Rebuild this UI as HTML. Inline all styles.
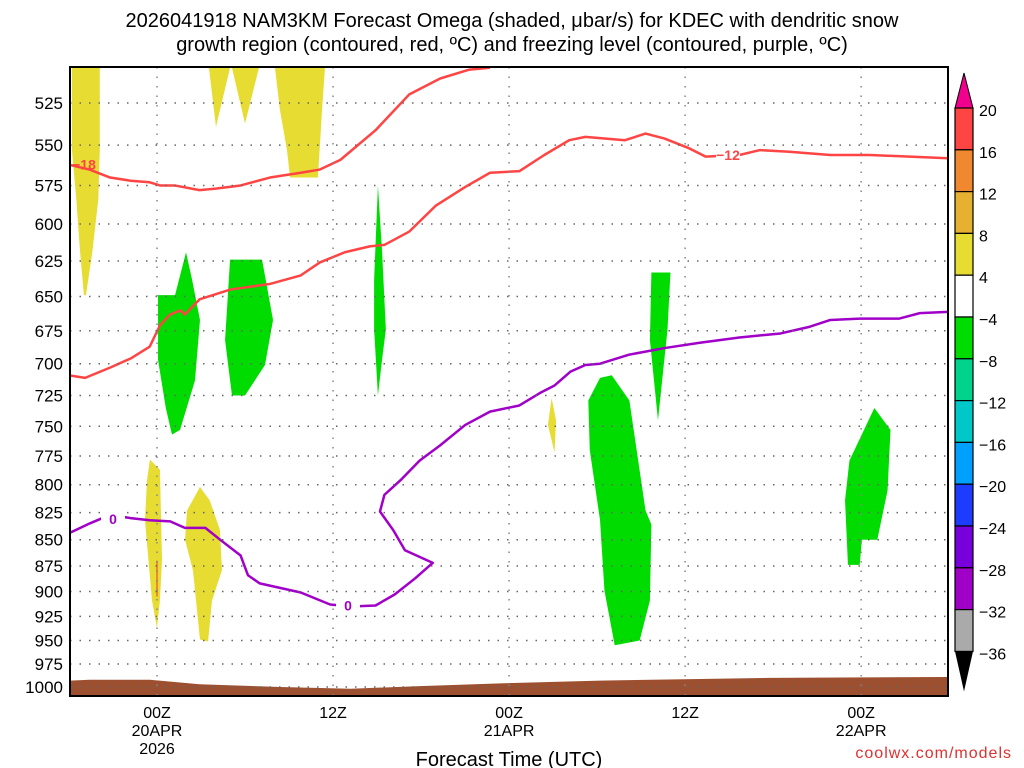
<!DOCTYPE html>
<html><head><meta charset="utf-8"><style>
body{margin:0;background:#fff;width:1024px;height:768px;overflow:hidden}
svg{display:block;font-family:"Liberation Sans",sans-serif}
</style></head><body>
<svg id="chart" width="1024" height="768" viewBox="0 0 1024 768">
<text x="512" y="27" font-size="20" text-anchor="middle">2026041918 NAM3KM Forecast Omega (shaded, μbar/s) for KDEC with dendritic snow</text>
<text x="512" y="51" font-size="20" text-anchor="middle">growth region (contoured, red, ºC) and freezing level (contoured, purple, ºC)</text>
<g id="plot"></g>
<text x="509" y="766" font-size="20" text-anchor="middle">Forecast Time (UTC)</text>
<text x="1012" y="758" font-size="16" fill="#e03030" text-anchor="end" letter-spacing="1">coolwx.com/models</text>
</svg>
<script>
const pressureTicks=[525,550,575,600,625,650,675,700,725,750,775,800,825,850,875,900,925,950,975,1000];
const timeTicks=[0,12,24,36,48];
const timeLabels=[["00Z","20APR","2026"],["12Z"],["00Z","21APR"],["12Z"],["00Z","22APR"]];
const cbLevels=["20","16","12","8","4","−4","−8","−12","−16","−20","−24","−28","−32","−36"];
const cbColors=["#ff4444","#f08830","#e6b030","#e6dc32","#ffffff","#00dc00","#00d48c","#00c8c8","#00a0ff","#1e3cff","#7800dc","#a000c8","#aaaaaa"];
// line contours: hours, pressure (mb)
const m18H=[-6,-4.6,-3.2,-1.8,-0.5,0.2,1.2,2.9,4,5.7,7.7,9.8,11.1,12.5,14.9,17.2,19.3,21.3,22.7];
const m18P=[562,565,570,572,573,575,575,578,577,575,570,567,565,559,541,520,511,506,505];
const m12H=[-6,-4.9,-3.2,-1.8,-0.5,0.2,0.9,1.6,1.9,2.9,5,7.7,9.8,11.1,12.8,14.5,15.5,17.2,19,21,22.7,24.7,26.4,28.1,29.2,31.9,33.3,34.6,36.3,37.4,39.7,41.1,43.1,45.9,48.6,51.3,54];
const m12P=[709,711,703,696,687,671,663,660,663,652,645,641,635,626,619,615,614,605,588,576,567,566,556,547,545,547,543,546,552,557,556,553,554,556,556,557,558];
const fzH=[-6,-4.6,-3.2,-1.8,-0.5,0.9,1.9,3.3,4.3,5.7,6.2,7,9.8,11.8,13.2,14.9,16.2,17.6,18.8,16.9,16.1,15.2,15.5,16.6,17.9,19.3,21,22.7,24.7,26.1,27.1,28.2,29.2,30.2,32.2,34.6,37,39.7,42.5,44.5,45.9,47.9,49.3,50.6,52,54];
const fzP=[844,835,827,830,832,833,839,839,850,865,884,892,901,913,915,914,903,887,872,860,841,824,809,796,779,766,749,738,733,723,717,706,701,700,693,688,684,680,677,672,667,666,666,666,662,661];
// shaded omega regions: [hour, pressure]
const yellowRegions=[
[[-5.8,505],[-3.9,505],[-3.9,553],[-4,584],[-4.4,618],[-4.84,649],[-4.98,649],[-5.25,618],[-5.5,584],[-5.8,553]],
[[3.54,505],[4.98,505],[4.02,539]],
[[5.11,505],[6.95,505],[6,537]],
[[8.04,505],[11.45,505],[11.25,529],[10.97,570],[9.07,570],[8.86,553],[8.38,529]],
[[26.9,727],[27.2,745],[27.1,772],[26.65,749]],
[[-0.48,778],[0.2,787],[0.34,869],[0.2,909],[0,937],[-0.34,909],[-0.82,832],[-0.68,796]],
[[2.93,802],[3.6,814],[4.29,841],[4.43,879],[3.75,909],[3.48,951],[2.93,949],[2.45,879],[1.91,850],[2.05,823]]
];
const greenRegions=[
[[0.07,649],[1.23,649],[1.98,619],[2.39,638],[2.93,667],[2.59,713],[1.57,753],[1.02,757],[0.6,735],[0.07,697]],
[[4.98,624],[7.16,624],[7.91,667],[7.36,701],[6,725],[5.11,725],[4.64,682]],
[[15.06,575],[15.34,618],[15.6,674],[15.34,697],[15.06,725],[14.8,674],[14.8,638]],
[[33.7,633],[35,633],[34.8,674],[34.15,745],[33.6,682]],
[[30.2,711],[31,709],[32.2,729],[33.3,823],[33.7,836],[33.6,909],[32.9,950],[31.2,955],[30.5,899],[30.2,832],[29.5,770],[29.4,729]],
[[48.9,735],[50,753],[49.8,805],[49.1,850],[48.05,850],[47.9,874],[47.1,874],[46.9,814],[47.2,779]]
];
const terrH=[-6,-4.6,-0.5,2.9,8.4,13.2,17.9,23.4,30.2,41.8,54];
const terrP=[993,992,992,997,1000,1002,999,996,993,990,989];

const NS="http://www.w3.org/2000/svg";
const L=70,R=948,T=67,B=696;
const xs=h=>157+h*14.67;
const ys=p=>103+906.3*Math.log(p/525);
const plot=document.getElementById('plot');
function mk(tag,attrs,parent){const e=document.createElementNS(NS,tag);for(const k in attrs)e.setAttribute(k,attrs[k]);(parent||plot).appendChild(e);return e;}
const defs=mk('defs',{});const cp=mk('clipPath',{id:'clip'},defs);mk('rect',{x:L,y:T,width:R-L,height:B-T},cp);
const g=mk('g',{'clip-path':'url(#clip)'});
yellowRegions.forEach(r=>{const e=mk('polygon',{points:r.map(d=>xs(d[0])+','+ys(d[1])).join(' '),fill:'#e6dc32'},g);

});
greenRegions.forEach(r=>{const e=mk('polygon',{points:r.map(d=>xs(d[0])+','+ys(d[1])).join(' '),fill:'#00dc00'},g);

});
mk('line',{x1:xs(0),y1:ys(870),x2:xs(0),y2:ys(905),stroke:'#f08830','stroke-width':2},g);
let tp=terrH.map((h,i)=>xs(h)+','+ys(terrP[i])).join(' ')+` ${R},${B} ${L},${B}`;
const terr=mk('polygon',{points:tp,fill:'#9c5030'},g);


// grid
pressureTicks.forEach(p=>{const e=mk('line',{x1:L,x2:R,y1:ys(p),y2:ys(p),stroke:'#666','stroke-width':1.5,'stroke-dasharray':'1.5 8'});


const t=mk('text',{x:63,y:ys(p)+6,'font-size':17,'text-anchor':'end'});t.textContent=p;

});
timeTicks.forEach((h,i)=>{const e=mk('line',{x1:xs(h),x2:xs(h),y1:T,y2:B,stroke:'#888','stroke-width':1.5,'stroke-dasharray':'1.5 8'});


timeLabels[i].forEach((s,j)=>{const t=mk('text',{x:xs(h),y:718+j*18,'font-size':16,'text-anchor':'middle'});t.textContent=s;

});});
function line(H,P,color,name){const e=mk('polyline',{points:H.map((h,i)=>xs(h)+','+ys(P[i])).join(' '),fill:'none',stroke:color,'stroke-width':2.5,'stroke-linejoin':'round'},g);

}
line(m18H,m18P,'#ff4444','isotherm-minus18');
line(m12H,m12P,'#ff4444','isotherm-minus12');
line(fzH,fzP,'#a000c8','freezing-level');
function lab(x,y,s,c,bg){if(bg)mk('rect',{x:x-12,y:y-8,width:24,height:15,fill:'#fff'});const t=mk('text',{x:x,y:y+5,'font-size':14,'font-weight':'bold',fill:c,'text-anchor':'middle'});t.textContent=s;

}
lab(84,ys(562),'−18','#ff4444',false);lab(728,ys(556),'−12','#ff4444',true);lab(113,ys(831),'0','#a000c8',true);lab(348,ys(914),'0','#a000c8',true);
const fr=mk('rect',{x:L,y:T,width:R-L,height:B-T,fill:'none',stroke:'#000','stroke-width':2});


// colorbar
const cbX=955,cbW=18,cbTop=108,cbH=41.8;
const up=mk('polygon',{points:`${cbX},${cbTop} ${cbX+cbW},${cbTop} ${cbX+cbW/2},73`,fill:'#f0008c',stroke:'#000'});


cbColors.forEach((c,i)=>{const r=mk('rect',{x:cbX,y:cbTop+i*cbH,width:cbW,height:cbH,fill:c,stroke:'#000','stroke-width':1.2});

});
const yb=cbTop+cbColors.length*cbH;
const dn=mk('polygon',{points:`${cbX},${yb} ${cbX+cbW},${yb} ${cbX+cbW/2},${yb+40}`,fill:'#000'});


cbLevels.forEach((s,i)=>{const t=mk('text',{x:979,y:cbTop+i*cbH+8,'font-size':16});t.textContent=s;

});
</script>
</body></html>
